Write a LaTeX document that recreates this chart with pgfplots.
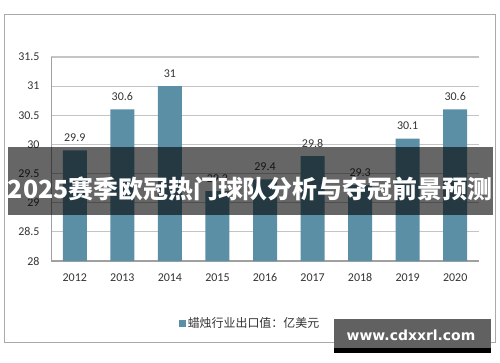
\documentclass[border=0pt]{standalone}
\usepackage{pgfplots}
\pgfplotsset{compat=1.18}
\usepackage{fontspec}
\setmainfont{Carlito}
\newfontfamily\cjk{Noto Sans CJK SC}
\newfontfamily\wm{DejaVu Sans}
\definecolor{barc}{RGB}{91,143,166}
\definecolor{txt}{RGB}{52,52,52}
\definecolor{gridc}{RGB}{196,196,196}
\definecolor{axc}{RGB}{160,160,160}
\definecolor{framec}{RGB}{170,170,170}
\begin{document}
\begin{tikzpicture}[x=1bp,y=1bp]
\fill[white] (0,0) rectangle (500,362);
\draw[framec, line width=0.8bp] (4,20) rectangle (495,348);
\begin{axis}[
  at={(51bp,101bp)}, anchor=south west,
  scale only axis, width=428bp, height=204bp,
  xmin=-0.5, xmax=8.5, ymin=28, ymax=31.5,
  ytick={28,28.5,29,29.5,30,30.5,31,31.5},
  xtick={0,1,2,3,4,5,6,7,8},
  xticklabels={2012,2013,2014,2015,2016,2017,2018,2019,2020},
  ybar, bar width=24bp,
  axis x line*=bottom, axis y line*=left,
  x axis line style={axc, line width=1.2bp, -},
  y axis line style={axc, line width=0.8bp, -},
  ymajorgrids, grid style={gridc, line width=1.2bp},
  major tick length=0pt,
  /pgf/number format/assume math mode=true,
  tick label style={font=\fontsize{12}{13}\selectfont, text=txt},
  yticklabel style={anchor=east, xshift=-8bp},
  xticklabel style={anchor=north, yshift=-9bp},
  nodes near coords,
  every node near coord/.append style={font=\fontsize{12}{13}\selectfont, text=txt, anchor=center, yshift=12.5bp},
  legend style={at={(0.465,-0.304)}, anchor=center, draw=none, fill=none,
    font=\cjk\fontsize{12}{14}\selectfont, text=txt, inner sep=0pt},
  legend image code/.code={\fill[barc] (0bp,-3.5bp) rectangle (7bp,3.5bp);},
]
\addplot[fill=barc, draw=none] coordinates {
 (0,29.9) (1,30.6) (2,31) (3,29.2) (4,29.4) (5,29.8) (6,29.3) (7,30.1) (8,30.6)};
\addlegendentry{蜡烛行业出口值：亿美元}
\end{axis}
\fill[black, opacity=0.6] (8,147) rectangle (493,215);
\node[text=white, inner sep=0pt] at (250,173) {\cjk\bfseries\fontsize{25}{30}\selectfont 2025赛季欧冠热门球队分析与夺冠前景预测};
\fill[black!62] (334,14) rectangle (491,43);
\fill[black] (334,9) rectangle (491,14);
\node[text=white, inner sep=0pt] at (411,27) {\wm\bfseries\fontsize{14}{16}\selectfont www.cdxxrl.com};
\end{tikzpicture}
\end{document}
